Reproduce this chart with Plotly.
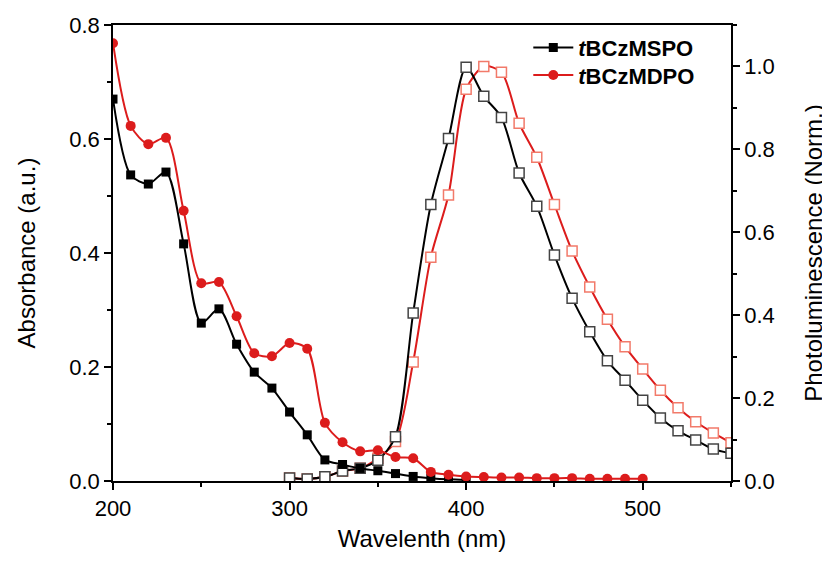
import plotly.graph_objects as go

# Absorbance (left axis)
wl_abs_mspo = [200, 210, 220, 230, 240, 250, 260, 270, 280, 290, 300, 310, 320, 330,
               340, 350, 360, 370, 380, 390, 400]
abs_mspo = [0.670, 0.537, 0.521, 0.542, 0.416, 0.277, 0.302, 0.240, 0.191, 0.163, 0.121,
            0.081, 0.037, 0.029, 0.022, 0.018, 0.013, 0.008, 0.005, 0.003, 0.002]

wl_abs_mdpo = [200, 210, 220, 230, 240, 250, 260, 270, 280, 290, 300, 310, 320, 330,
               340, 350, 360, 370, 380, 390, 400, 410, 420, 430, 440, 450, 460, 470,
               480, 490, 500]
abs_mdpo = [0.768, 0.623, 0.591, 0.602, 0.474, 0.347, 0.349, 0.289, 0.224, 0.219, 0.242,
            0.232, 0.102, 0.068, 0.052, 0.054, 0.042, 0.040, 0.016, 0.011, 0.008, 0.007,
            0.006, 0.006, 0.005, 0.005, 0.005, 0.004, 0.004, 0.004, 0.004]

# Photoluminescence (right axis)
wl_pl = [300, 310, 320, 330, 340, 350, 360, 370, 380, 390, 400, 410, 420, 430, 440,
         450, 460, 470, 480, 490, 500, 510, 520, 530, 540, 550]
pl_mspo = [0.007, 0.005, 0.010, 0.024, 0.031, 0.050, 0.107, 0.405, 0.667, 0.826, 0.998,
           0.928, 0.877, 0.743, 0.663, 0.545, 0.441, 0.360, 0.290, 0.243, 0.195, 0.152,
           0.121, 0.099, 0.077, 0.067]
pl_mdpo = [0.007, 0.005, 0.010, 0.024, 0.031, 0.055, 0.095, 0.287, 0.540, 0.690, 0.945,
           1.000, 0.986, 0.863, 0.781, 0.667, 0.555, 0.468, 0.390, 0.324, 0.270, 0.219,
           0.177, 0.143, 0.116, 0.092]

BLACK = "#000000"
RED = "#dc1c1c"
FONT = "Liberation Sans, Arial, sans-serif"

fig = go.Figure()

# PL curves (open squares) on the right axis
fig.add_trace(go.Scatter(
    x=wl_pl, y=pl_mdpo, yaxis="y", mode="lines+markers",
    line=dict(color=RED, width=2, shape="spline", smoothing=0.8),
    marker=dict(symbol="square", size=10, color="white",
                line=dict(color="#f27a6a", width=1.5)),
    showlegend=False
))
fig.add_trace(go.Scatter(
    x=wl_pl, y=pl_mspo, yaxis="y", mode="lines+markers",
    line=dict(color=BLACK, width=2, shape="spline", smoothing=0.8),
    marker=dict(symbol="square", size=10, color="white",
                line=dict(color="#444444", width=1.5)),
    showlegend=False
))

# Absorbance curves on the left axis
fig.add_trace(go.Scatter(
    x=wl_abs_mspo, y=abs_mspo, yaxis="y2", mode="lines+markers",
    line=dict(color=BLACK, width=2, shape="spline", smoothing=0.8),
    marker=dict(symbol="square", size=9, color=BLACK),
    name="<b><i>t</i>BCzMSPO</b>", legend="legend"
))
fig.add_trace(go.Scatter(
    x=wl_abs_mdpo, y=abs_mdpo, yaxis="y2", mode="lines+markers",
    line=dict(color=RED, width=2, shape="spline", smoothing=0.8),
    marker=dict(symbol="circle", size=10, color=RED),
    name="<b><i>t</i>BCzMDPO</b>", legend="legend2"
))

axis_common = dict(
    showgrid=False, zeroline=False, showline=True, linecolor=BLACK, linewidth=1.5,
    ticks="outside", ticklen=7, tickwidth=1.5, tickcolor=BLACK, automargin=False,
    tickfont=dict(family=FONT, size=22, color=BLACK),
)

legend_common = dict(
    x=0.672, xanchor="left", yanchor="middle",
    bgcolor="rgba(0,0,0,0)", font=dict(family=FONT, size=22, color=BLACK),
    itemwidth=40
)

# page body adds an 8px offset, so the figure is a bit smaller than the window
fig.update_layout(
    width=822, height=553,
    margin=dict(l=105, r=99, t=17, b=80),
    plot_bgcolor="white", paper_bgcolor="white",
    font=dict(family=FONT, color=BLACK),
    xaxis=dict(
        range=[200, 550], dtick=100, mirror=True,
        minor=dict(dtick=50, ticks="outside", ticklen=4, tickcolor=BLACK),
        title=dict(text="Wavelenth (nm)", font=dict(family=FONT, size=24), standoff=10),
        **axis_common
    ),
    yaxis=dict(
        range=[0, 1.1], dtick=0.2, tickformat=".1f", side="right",
        minor=dict(dtick=0.1, ticks="outside", ticklen=4, tickcolor=BLACK),
        title=dict(text="Photoluminescence (Norm.)", font=dict(family=FONT, size=24), standoff=31),
        **axis_common
    ),
    yaxis2=dict(
        range=[0, 0.8], dtick=0.2, tickformat=".1f", side="left", overlaying="y",
        minor=dict(dtick=0.1, ticks="outside", ticklen=4, tickcolor=BLACK),
        title=dict(text="Absorbance (a.u.)", font=dict(family=FONT, size=24), standoff=27),
        **axis_common
    ),
    legend=dict(y=0.95, **legend_common),
    legend2=dict(y=0.89, **legend_common),
)

fig.write_html("out.html")
